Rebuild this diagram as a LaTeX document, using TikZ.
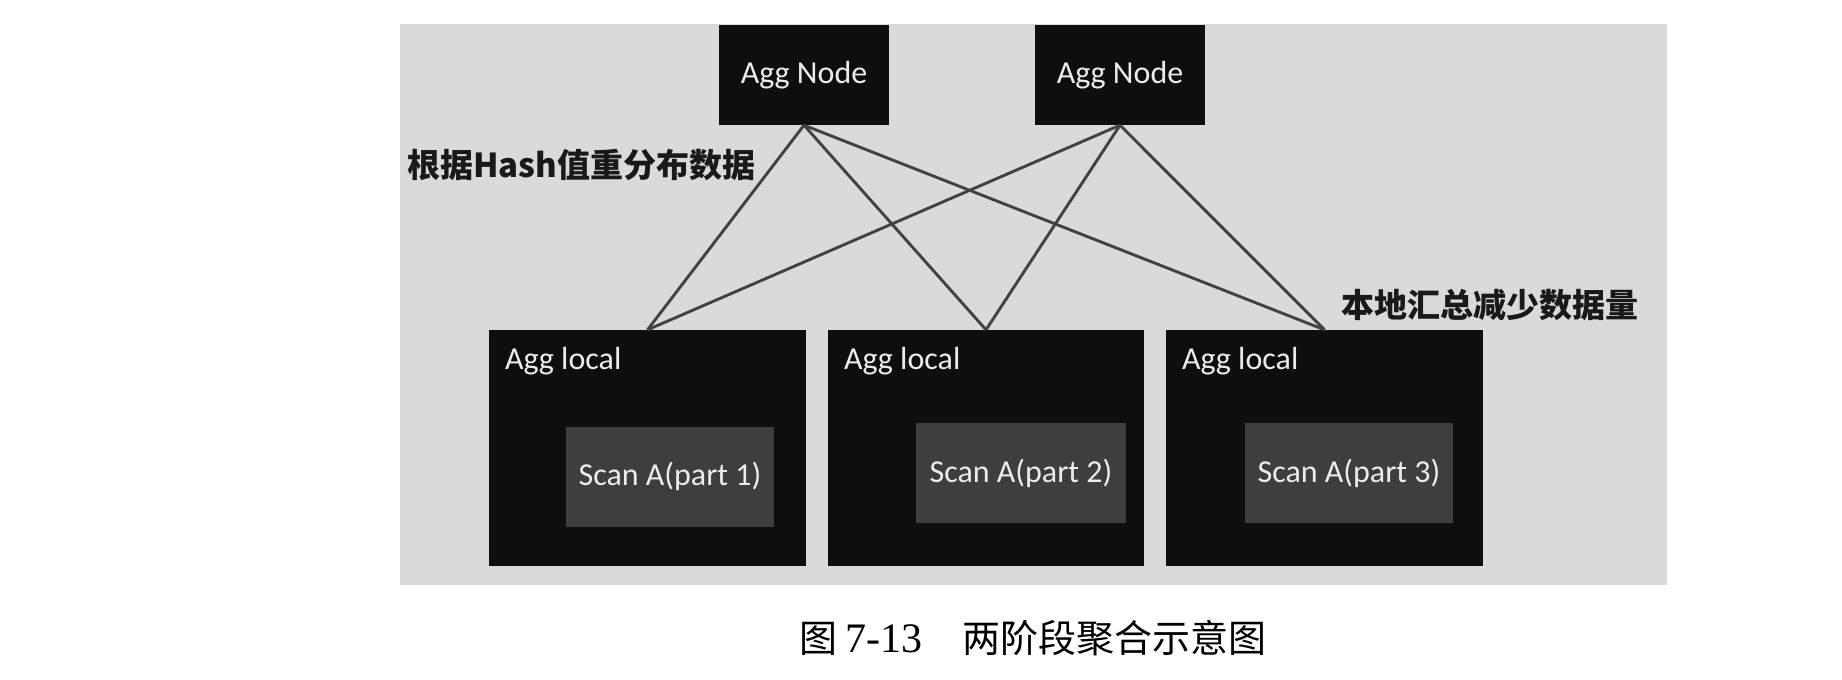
\documentclass[tikz,border=0pt]{standalone}
\usepackage{fontspec}
\setmainfont{Carlito}
\newfontfamily\cjk{Noto Sans CJK SC}
\newfontfamily\capserif{Liberation Serif}
\definecolor{panelgray}{RGB}{218,218,218}
\definecolor{boxblack}{RGB}{14,14,14}
\definecolor{scangray}{RGB}{62,62,62}
\definecolor{linegray}{RGB}{66,66,66}
\definecolor{txtwhite}{RGB}{236,236,236}
\definecolor{notetext}{RGB}{25,25,25}
\begin{document}
\begin{tikzpicture}[x=1pt,y=-1pt,
  boxfont/.style={font=\fontsize{32}{38}\selectfont},
  aggnode/.style={fill=boxblack, draw=none, minimum width=170pt, minimum height=100pt, inner sep=0pt, text=txtwhite, boxfont},
  localbox/.style={fill=boxblack, draw=none, minimum height=236pt, inner sep=0pt},
  scanbox/.style={fill=scangray, draw=none, minimum height=100pt, inner sep=0pt, text=txtwhite, boxfont},
  boxlabel/.style={text=txtwhite, boxfont, inner sep=0pt, anchor=base west},
  link/.style={draw=linegray, line width=2.9pt},
  note/.style={font=\cjk\bfseries\fontsize{33}{40}\selectfont, inner sep=0pt, text=notetext, anchor=west}
]
\fill[white] (0,0) rectangle (1842,680);
\useasboundingbox (0,0) rectangle (1842,680);
\fill[panelgray] (400,24) rectangle (1667,585);

% top aggregation nodes
\node[aggnode] (n1) at (804,75) {Agg Node};
\node[aggnode] (n2) at (1120,75) {Agg Node};

% local aggregation boxes
\node[localbox, minimum width=317pt] (l1) at (647.5,448) {};
\node[localbox, minimum width=316pt] (l2) at (986,448) {};
\node[localbox, minimum width=317pt] (l3) at (1324.5,448) {};
\node[boxlabel] (t1) at ([shift={(16,40)}]l1.north west) {Agg local};
\node[boxlabel] (t2) at ([shift={(16,40)}]l2.north west) {Agg local};
\node[boxlabel] (t3) at ([shift={(16,40)}]l3.north west) {Agg local};

% scan boxes
\node[scanbox, minimum width=208pt] (s1) at (670,476.5) {Scan A(part 1)};
\node[scanbox, minimum width=210pt] (s2) at (1021,473) {Scan A(part 2)};
\node[scanbox, minimum width=208pt] (s3) at (1349,473) {Scan A(part 3)};

% connectors
\foreach \a in {n1,n2}{
  \foreach \b in {l1,l2,l3}{
    \draw[link] (\a.south) -- (\b.north);
  }
}

% annotations
\node[note] (lab1) at (407,165) {根据Hash值重分布数据};
\node[note] (lab2) at (1341,305) {本地汇总减少数据量};

% caption
\node[font=\cjk\fontsize{38}{44}\selectfont, inner sep=0pt, text=black, anchor=west] (cap) at (799,638)
  {图\hspace{8pt}{\capserif\fontsize{42}{44}\selectfont 7-13}\hspace{40pt}两阶段聚合示意图};
\end{tikzpicture}
\end{document}
